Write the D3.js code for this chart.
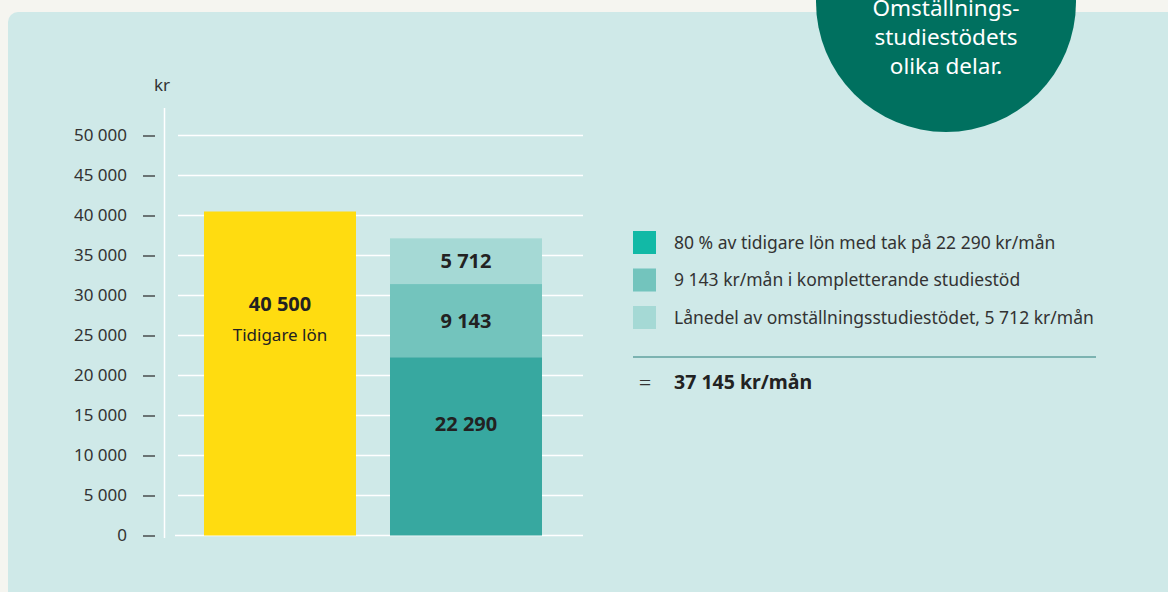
<!DOCTYPE html>
<html>
<head>
<meta charset="utf-8">
<script src="https://cdn.jsdelivr.net/npm/d3@7"></script>
<style>
  body { margin: 0; background: #f5f5f0; font-family: "Noto Sans", "Open Sans", sans-serif; }
  svg { display: block; }
</style>
</head>
<body>
<div id="chart"></div>
<script>
// Data
var bars = ['Tidigare lön', 'Omställningsstudiestöd']
var salary = [40500]
var parts = ['80 % av tidigare lön med tak på 22 290 kr/mån',
             '9 143 kr/mån i kompletterande studiestöd',
             'Lånedel av omställningsstudiestödet, 5 712 kr/mån']
var partValues = [22290, 9143, 5712]
var partLabels = ['22 290', '9 143', '5 712']
var yTicks = [0, 5000, 10000, 15000, 20000, 25000, 30000, 35000, 40000, 45000, 50000]
var total = '37 145 kr/mån'
var title = ['Omställnings-', 'studiestödets', 'olika delar.']

var W = 1168, H = 592
var fmt = n => d3.format(',')(n).replace(/,/g, ' ')

var svg = d3.select('#chart').append('svg').attr('width', W).attr('height', H)

// panel
svg.append('rect').attr('x', 8).attr('y', 12).attr('width', W + 20).attr('height', H + 20)
  .attr('rx', 10).attr('fill', '#cfe9e8')

// Scales
var yScale = d3.scaleLinear().domain([0, 50000]).range([535.5, 135.5])
var xScale = d3.scaleBand().domain(bars).range([187, 559]).paddingInner(34 / 186).paddingOuter(17 / 186)
var colors = ['#37a8a0', '#73c4bd', '#a5d9d5']
var legendColors = ['#12b9a6', '#73c4bd', '#a5d9d5']

// grid lines
svg.append('g').selectAll('line')
  .data(yTicks)
  .enter().append('line')
  .attr('x1', d => d === 0 ? 175 : 178)
  .attr('x2', 583)
  .attr('y1', d => yScale(d))
  .attr('y2', d => yScale(d))
  .attr('stroke', '#ffffff')
  .attr('stroke-width', 1.5)

// y axis line
svg.append('line').attr('x1', 164.5).attr('x2', 164.5).attr('y1', 108).attr('y2', 538)
  .attr('stroke', '#ffffff').attr('stroke-width', 1.5)

// Making Axes
var yAxis = svg.append('g')
  .attr('transform', 'translate(155,0)')
  .call(d3.axisLeft(yScale).tickValues(yTicks).tickFormat(fmt).tickSize(12).tickPadding(16))
yAxis.select('.domain').remove()
yAxis.selectAll('.tick line').attr('stroke', '#333').attr('stroke-width', 1.3)
yAxis.selectAll('.tick text')
  .attr('fill', '#333').style('font-size', '17px')
  .style('font-family', '"Noto Sans", sans-serif')
  .attr('dy', '0.28em')

svg.append('text').attr('x', 162).attr('y', 91).attr('text-anchor', 'middle')
  .attr('fill', '#333').style('font-size', '17px').text('kr')

// salary bar
var x0 = xScale(bars[0])
svg.append('rect')
  .attr('x', x0).attr('width', xScale.bandwidth())
  .attr('y', yScale(salary[0])).attr('height', yScale(0) - yScale(salary[0]))
  .attr('fill', '#ffdc10')

var salaryMid = (yScale(salary[0]) + yScale(0)) / 2
svg.append('text').attr('x', x0 + xScale.bandwidth() / 2).attr('y', salaryMid - 63)
  .attr('text-anchor', 'middle').attr('fill', '#222')
  .style('font-size', '20px').style('font-weight', 'bold').text(fmt(salary[0]))
svg.append('text').attr('x', x0 + xScale.bandwidth() / 2).attr('y', salaryMid - 33)
  .attr('text-anchor', 'middle').attr('fill', '#222')
  .style('font-size', '17px').text(bars[0])

// stacked bar
var x1 = xScale(bars[1])
var cum = 0
var stack = partValues.map((v, i) => {
  var s = {y0: cum, y1: cum + v, label: partLabels[i], color: colors[i]}
  cum += v
  return s
})

var seg = svg.append('g').selectAll('g')
  .data(stack)
  .enter().append('g')
seg.append('rect')
  .attr('x', x1).attr('width', xScale.bandwidth())
  .attr('y', d => yScale(d.y1))
  .attr('height', d => yScale(d.y0) - yScale(d.y1))
  .attr('fill', d => d.color)
seg.append('text')
  .attr('x', x1 + xScale.bandwidth() / 2)
  .attr('y', (d, i) => i === 0 ? yScale(d.y1) + 74 : (yScale(d.y0) + yScale(d.y1)) / 2 + 7)
  .attr('text-anchor', 'middle').attr('fill', '#222')
  .style('font-size', '20px').style('font-weight', 'bold')
  .text(d => d.label)

// Making Legends
var legend = svg.append('g').selectAll('g')
  .data(parts)
  .enter().append('g')
  .attr('transform', (d, i) => 'translate(633,' + (231 + i * 37.5) + ')')
legend.append('rect').attr('width', 23).attr('height', 23)
  .attr('fill', (d, i) => legendColors[i])
legend.append('text').attr('x', 41).attr('y', 17.5)
  .attr('fill', '#333').style('font-size', '17.5px')
  .text(d => d)

svg.append('line').attr('x1', 633).attr('x2', 1096).attr('y1', 357).attr('y2', 357)
  .attr('stroke', '#2a7f7a').attr('stroke-width', 1.2)
svg.append('text').attr('x', 645).attr('y', 390).attr('text-anchor', 'middle')
  .attr('fill', '#333').style('font-size', '22px').style('font-weight', '300').text('=')
svg.append('text').attr('x', 674).attr('y', 389)
  .attr('fill', '#222').style('font-size', '19.5px').style('font-weight', 'bold')
  .text(total)

// title circle
svg.append('circle').attr('cx', 946).attr('cy', 2).attr('r', 130).attr('fill', '#00705f')
svg.append('g').selectAll('text')
  .data(title)
  .enter().append('text')
  .attr('x', 946).attr('y', (d, i) => 16 + i * 29)
  .attr('text-anchor', 'middle').attr('fill', '#ffffff')
  .style('font-size', '22.5px')
  .text(d => d)
</script>
</body>
</html>
